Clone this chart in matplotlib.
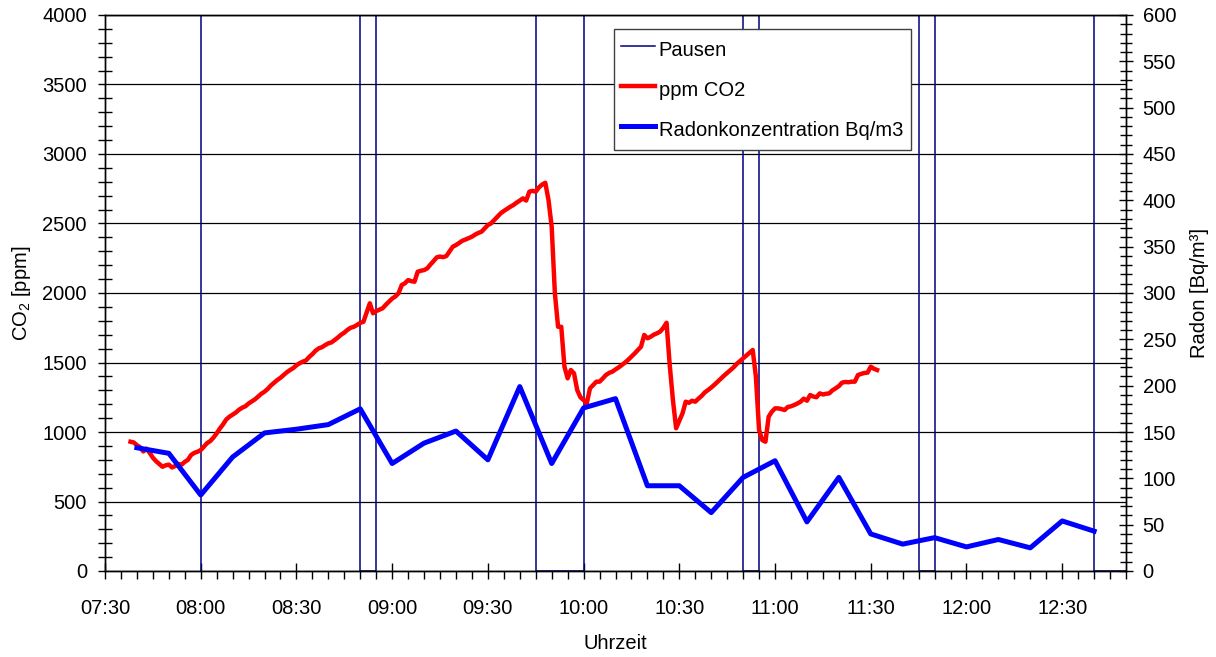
import matplotlib
matplotlib.use("Agg")
import matplotlib.pyplot as plt
from matplotlib.ticker import MultipleLocator, FuncFormatter

plt.rcParams['font.family'] = ['Liberation Sans', 'DejaVu Sans']
plt.rcParams['mathtext.default'] = 'regular'
plt.rcParams['font.size'] = 14.5


def minuten(s):
    h, m = s.split(':')
    return int(h) * 60 + int(m)


# CO2-Messung, ein Wert pro Minute ab 07:38
co2_start = '07:38'
co2_ppm = [
    930, 925, 905, 890, 860, 880, 850, 815, 790, 770,    # 07:38
    750, 760, 765, 745, 755, 770, 765, 785, 800, 835,    # 07:48
    850, 858, 870, 895, 920, 935, 960, 990, 1025, 1055,  # 07:58
    1090, 1110, 1125, 1140, 1160, 1175, 1185, 1205, 1220, 1235,  # 08:08
    1255, 1275, 1290, 1310, 1335, 1355, 1374, 1390, 1410, 1430,  # 08:18
    1446, 1460, 1480, 1495, 1506, 1515, 1540, 1560, 1585, 1602,  # 08:28
    1610, 1625, 1638, 1645, 1662, 1680, 1700, 1715, 1735, 1750,  # 08:38
    1757, 1770, 1785, 1793, 1860, 1926, 1854, 1870, 1880, 1890,  # 08:48
    1915, 1937, 1960, 1975, 1998, 2057, 2070, 2093, 2085, 2081,  # 08:58
    2153, 2160, 2165, 2177, 2205, 2230, 2257, 2262, 2258, 2266,  # 09:08
    2300, 2333, 2345, 2360, 2376, 2385, 2395, 2405, 2420, 2432,  # 09:18
    2441, 2465, 2489, 2501, 2525, 2550, 2573, 2590, 2605, 2620,  # 09:28
    2633, 2650, 2665, 2681, 2665, 2729, 2735, 2729, 2760, 2780,  # 09:38
    2793, 2669, 2477, 1998, 1757, 1757, 1470, 1386, 1446, 1422,  # 09:48
    1302, 1250, 1230, 1206, 1314, 1338, 1362, 1362, 1385, 1410,  # 09:58
    1425, 1434, 1450, 1465, 1482, 1500, 1520, 1542, 1565, 1590,  # 10:08
    1614, 1698, 1674, 1685, 1700, 1710, 1722, 1750, 1786, 1480,  # 10:18
    1230, 1027, 1080, 1134, 1218, 1210, 1225, 1218, 1240, 1260,  # 10:28
    1285, 1302, 1320, 1340, 1362, 1385, 1405, 1425, 1446, 1465,  # 10:38
    1490, 1510, 1530, 1550, 1570, 1590, 1398, 1014, 942, 930,    # 10:48
    1110, 1146, 1170, 1170, 1165, 1158, 1180, 1185, 1194, 1205,  # 10:58
    1218, 1240, 1225, 1266, 1255, 1250, 1278, 1270, 1275, 1278,  # 11:08
    1300, 1314, 1330, 1355, 1360, 1358, 1362, 1362, 1410, 1418,  # 11:18
    1425, 1427, 1470, 1455, 1446,                                # 11:28
]
co2_zeit = [minuten(co2_start) + i for i in range(len(co2_ppm))]

# Radon alle 10 Minuten
radon_zeit = ['07:40', '07:50', '08:00', '08:10', '08:20', '08:30', '08:40', '08:50',
              '09:00', '09:10', '09:20', '09:30', '09:40', '09:50', '10:00', '10:10',
              '10:20', '10:30', '10:40', '10:50', '11:00', '11:10', '11:20', '11:30',
              '11:40', '11:50', '12:00', '12:10', '12:20', '12:30', '12:40']
radon_bq = [133, 127, 82, 123, 149, 153, 158, 175,
            116, 138, 151, 120, 199, 116, 176, 186,
            92, 92, 63, 101, 119, 53, 101, 40,
            29, 36, 26, 34, 25, 54, 43]

# Pausen als Rechtecksignal (0 = Pause)
pausen_zeit = ['08:00', '08:00', '08:50', '08:50', '08:55', '08:55', '09:45', '09:45',
               '10:00', '10:00', '10:50', '10:50', '10:55', '10:55', '11:45', '11:45',
               '11:50', '11:50', '12:40', '12:40', '12:50']
pausen_wert = [0, 5000, 5000, 0, 0, 5000, 5000, 0,
               0, 5000, 5000, 0, 0, 5000, 5000, 0,
               0, 5000, 5000, 0, 0]

###############################################################################
fig = plt.figure(figsize=(12.16, 6.57), dpi=100)
ax = fig.add_axes([105 / 1216, 1 - 571 / 657, 1021 / 1216, 556 / 657])
ax2 = ax.twinx()

l1, = ax.plot([minuten(t) for t in pausen_zeit], pausen_wert, color='#000080', lw=1.1,
              label='Pausen', zorder=2)
l2, = ax.plot(co2_zeit, co2_ppm, color='#ff0000', lw=3.2, label='ppm CO2', zorder=3)
l3, = ax2.plot([minuten(t) for t in radon_zeit], radon_bq, color='#0000ff', lw=3.6,
               label='Radonkonzentration Bq/m3', zorder=3)

ax.set_xlim(minuten('07:30'), minuten('12:50'))
ax.set_ylim(0, 4000)
ax2.set_ylim(0, 600)

ax.xaxis.set_major_locator(MultipleLocator(30))
ax.xaxis.set_minor_locator(MultipleLocator(5))
ax.xaxis.set_major_formatter(FuncFormatter(lambda v, p: '%02d:%02d' % (int(v) // 60, int(v) % 60)))
ax.yaxis.set_major_locator(MultipleLocator(500))
ax.yaxis.set_minor_locator(MultipleLocator(100))
ax2.yaxis.set_major_locator(MultipleLocator(50))
ax2.yaxis.set_minor_locator(MultipleLocator(10))

ax.grid(axis='y', which='major', color='black', lw=0.9)
ax.set_axisbelow(True)

ax.tick_params(axis='x', which='major', direction='inout', length=12, width=1, pad=14)
ax.tick_params(axis='x', which='minor', direction='out', length=6, width=1)
ax.tick_params(axis='y', which='major', direction='out', length=5, width=1, pad=8)
ax.tick_params(axis='y', which='minor', direction='inout', length=10, width=1)
ax2.tick_params(axis='y', which='major', direction='inout', length=10, width=1, pad=7)
ax2.tick_params(axis='y', which='minor', direction='inout', length=8, width=1)

for a in (ax, ax2):
    for sp in a.spines.values():
        sp.set_color('black')
        sp.set_linewidth(1)

ax.set_xlabel('Uhrzeit', labelpad=12)
ax.set_ylabel('CO$_2$ [ppm]', labelpad=7)
ax2.set_ylabel('Radon [Bq/m³]', labelpad=10)

leg = ax2.legend(handles=[l1, l2, l3], loc='upper left', bbox_to_anchor=(0.4985, 0.975),
                 fancybox=False, framealpha=1, edgecolor='#404040', handlelength=1.65,
                 handleheight=1.6, handletextpad=0.2, labelspacing=0.7, borderpad=0.37,
                 borderaxespad=0)
leg.get_frame().set_linewidth(1)

fig.savefig('out.png', dpi=100)
